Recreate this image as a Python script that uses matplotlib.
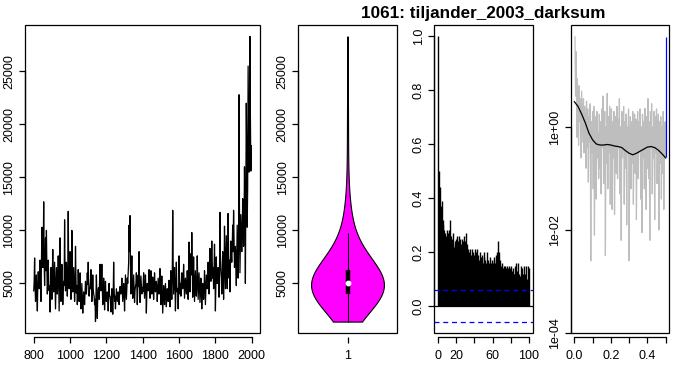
import numpy as np
import matplotlib
matplotlib.use("Agg")
import matplotlib.pyplot as plt

# ---------- Global style ----------

matplotlib.rcParams["font.family"] = ["Liberation Sans", "DejaVu Sans"]
matplotlib.rcParams["font.size"] = 9

TITLE = "1061: tiljander_2003_darksum"
VIOLIN_COLOR = "#FF00FF"
GREY = "#BEBEBE"
BLUE = "#0000FF"

# ---------- Data ----------

# darksum series: envelope values every 5 years from 800 ...
START_YEAR = 800
YEAR_STEP = 5
darksum_env = [
    4300, 7400, 3300, 5800, 2400, 6100, 4500, 7200, 3300, 10300,
    6500, 12700, 4800, 9300, 10000, 4000, 7200, 4300, 2300, 6500,
    3500, 8200, 4200, 7000, 2600, 6500, 4000, 7600, 2400, 9300,
    3300, 6800, 3000, 5200, 11000, 4300, 7000, 3800, 11800, 4500,
    8000, 3500, 10000, 4200, 6500, 3300, 8500, 4100, 3000, 6300,
    3300, 6000, 2600, 5000, 2200, 4200, 3000, 5200, 4000, 6000,
    7000, 3800, 4500, 6300, 3300, 5800, 4000, 3000, 1400, 5800,
    1700, 4500, 3500, 6800, 4300, 6800, 3000, 5500, 2500, 5200,
    3300, 4200, 2400, 5000, 3800, 2300, 4500, 2100, 7000, 3300,
    2600, 4500, 3300, 4200, 3000, 4700, 4000, 5500, 3300, 5000,
    2400, 5800, 3500, 5500, 6000, 10500, 11400, 4000, 7600, 3600,
    5800, 3200, 4700, 6000, 3000, 5800, 8000, 3200, 5700, 4000,
    4200, 6000, 3600, 5800, 2200, 5000, 4300, 6300, 3600, 6200,
    4000, 5600, 3500, 6000, 4200, 5200, 3300, 5500, 4000, 6400,
    3000, 5700, 2200, 4800, 3000, 5000, 2800, 4500, 3300, 5300,
    2800, 6200, 3500, 11900, 4000, 6500, 2400, 7000, 4200, 2600,
    7600, 4000, 3800, 6000, 4500, 6800, 3600, 5500, 4000, 6200,
    3500, 8900, 4200, 7800, 9800, 3700, 7500, 3300, 6200, 3800,
    7600, 3500, 6000, 3200, 5500, 2600, 5000, 3500, 6200, 3000,
    5800, 4500, 7000, 4000, 8300, 5200, 9000, 5500, 4500, 8700,
    2400, 7500, 5000, 6500, 3700, 11700, 6200, 4000, 8000, 3500,
    10400, 4500, 9500, 4500, 11600, 5500, 4200, 9000, 7000, 10500,
    11900, 6500, 8500, 4800, 10500, 5500, 22800, 6000, 11500, 8000,
    13000, 8500, 16000, 5000, 22000, 10300, 25500, 15500, 28300, 15600,
]
# ... and the typical level in between (802.5, 807.5, ...)
darksum_mid = [
    5200, 4700, 4400, 3900, 4800, 5300, 5600, 4800, 6500, 7500,
    8000, 7000, 7000, 6200, 6500, 5500, 5200, 4800, 4500, 5300,
    5800, 5200, 5600, 4900, 4600, 5200, 5400, 5000, 6000, 5200,
    4800, 4500, 4200, 4800, 6000, 5500, 5200, 6000, 6500, 5500,
    5800, 5000, 6200, 5400, 4800, 4400, 5500, 4800, 4200, 4600,
    4300, 4000, 3800, 3500, 3400, 3800, 4100, 4400, 4800, 4900,
    5000, 4600, 5200, 4800, 4300, 4500, 3800, 3500, 3400, 4000,
    3800, 4600, 5000, 5200, 5000, 4600, 4000, 4300, 3800, 3700,
    3900, 3600, 3700, 3800, 3400, 3500, 3600, 3900, 4500, 3800,
    3600, 3900, 3800, 3700, 4000, 4200, 4600, 4400, 4200, 4000,
    4300, 4500, 4600, 5000, 7000, 8000, 6500, 5500, 5000, 4600,
    4500, 4300, 5000, 4800, 4500, 4700, 5000, 4400, 4800, 4600,
    4900, 4800, 4600, 4500, 4000, 4600, 5000, 5200, 4800, 4900,
    4700, 4600, 4500, 4800, 4600, 4500, 4300, 4700, 4900, 5000,
    4200, 4000, 3600, 4000, 4000, 3900, 3800, 3700, 4100, 4200,
    4200, 4600, 5500, 7000, 5200, 5000, 4200, 4800, 4500, 4200,
    5500, 5000, 4800, 5000, 5300, 5200, 4600, 4700, 5000, 5200,
    5500, 6200, 6000, 5800, 6500, 5200, 5300, 4800, 5000, 4800,
    5500, 4800, 4700, 4500, 4300, 4000, 4300, 4400, 4600, 4500,
    5200, 5400, 5500, 5800, 6400, 6800, 7000, 6500, 6300, 6000,
    5200, 5500, 5800, 6000, 6000, 7500, 5500, 6000, 6000, 5800,
    7500, 6800, 7000, 6800, 8000, 7200, 6500, 7800, 8500, 8000,
    9000, 7500, 7000, 7500, 8000, 8500, 12000, 9000, 9800, 9500,
    11000, 10500, 12000, 13000, 17000, 14000, 20000, 19000, 21000, 18000,
]

# autocorrelation, lags 0..100
acf_values = [
    1.00, 0.50, 0.44, 0.37, 0.39, 0.32, 0.30, 0.28, 0.27, 0.26,
    0.28, 0.27, 0.28, 0.32, 0.26, 0.25, 0.23, 0.27, 0.22, 0.24,
    0.25, 0.26, 0.24, 0.26, 0.25, 0.23, 0.25, 0.24, 0.23, 0.26,
    0.24, 0.27, 0.23, 0.21, 0.20, 0.21, 0.19, 0.21, 0.20, 0.18,
    0.19, 0.21, 0.20, 0.21, 0.19, 0.17, 0.20, 0.18, 0.19, 0.16,
    0.20, 0.18, 0.17, 0.16, 0.20, 0.17, 0.16, 0.18, 0.16, 0.17,
    0.16, 0.18, 0.17, 0.16, 0.19, 0.20, 0.24, 0.20, 0.17, 0.15,
    0.16, 0.14, 0.15, 0.14, 0.15, 0.14, 0.15, 0.14, 0.15, 0.14,
    0.15, 0.13, 0.14, 0.12, 0.12, 0.15, 0.16, 0.13, 0.16, 0.12,
    0.11, 0.15, 0.14, 0.12, 0.15, 0.12, 0.11, 0.15, 0.10, 0.15,
    0.14,
]
acf_ci = 0.058

# raw periodogram (log10), frequencies k/300 for k = 1..150
PGRAM_N = 300
pgram_log10 = [
    1.75, 0.6, 1.46, -0.2, 0.94, 0.3, -0.36, 0.8, 0.1, 0.55,
    -0.6, 0.7, 0.2, -0.3, 0.55, -0.5, 0.4, 0.0, -0.8, 0.5,
    -0.4, 0.35, -1.07, 0.2, -0.3, 0.45, -2.6, 0.1, -0.5, 0.3,
    -1.2, 0.4, -2.1, -0.2, 0.2, -1.4, 0.3, -0.6, -0.1, -1.0,
    0.25, -0.8, 0.1, -1.3, 0.35, -0.4, 0.6, -1.1, -0.2, 0.3,
    -2.5, 0.0, -0.7, 0.65, -1.2, 0.2, -0.5, 0.4, -1.5, -0.1,
    0.35, -1.6, 0.1, -0.6, 0.3, -1.7, -0.3, 0.2, -0.9, 0.4,
    -1.0, 0.15, -0.4, 0.55, -1.3, 0.0, -2.2, 0.3, -0.6, -0.2,
    0.4, -1.5, 0.1, -0.8, 0.25, -1.9, 0.0, -0.5, 0.35, -2.6,
    -0.3, 0.2, -1.2, 0.1, -0.7, 0.3, -1.5, -0.1, 0.25, -0.9,
    0.15, -1.8, -0.2, 0.3, -1.0, 0.1, -0.5, 0.35, -1.4, 0.0,
    -2.05, 0.25, -0.6, 0.1, -1.2, 0.36, -0.3, -1.6, 0.2, -0.8,
    0.55, -1.0, 0.1, -2.2, 0.3, -0.4, 0.45, -1.3, 0.0, -0.6,
    0.3, -1.8, 0.2, -0.5, 0.35, -1.1, -0.1, 0.25, -2.0, 0.1,
    -0.7, 0.2, -1.4, 0.0, -0.9, 0.3, -1.6, -0.2, 0.1, -0.6,
]

# smoothed spectrum (log10), every 0.02 from 0 to 0.5
smooth_freq = [round(0.02 * i, 2) for i in range(26)]
smooth_log10 = [
    0.49, 0.40, 0.25, 0.08, -0.12, -0.25, -0.33, -0.35, -0.35, -0.34,
    -0.35, -0.37, -0.38, -0.40, -0.46, -0.51, -0.54, -0.51, -0.47, -0.43,
    -0.39, -0.38, -0.40, -0.45, -0.52, -0.60,
]

# blue marker segment at the Nyquist frequency (log10 ends)
blue_freq = 0.5
blue_log10 = [-0.58, 1.75]


# ---------- Helpers ----------

def r_range(lo, hi):
    pad = 0.04 * (hi - lo)
    return lo - pad, hi + pad


def r_axes(ax, xticks, xlabels, yticks, ylabels):
    """Box round the plot region plus R-like axes drawn from first to last tick."""
    ax.patch.set_edgecolor("black")
    ax.patch.set_linewidth(0.9)
    for s in ("top", "right"):
        ax.spines[s].set_visible(False)
    ax.spines["bottom"].set_position(("outward", 3))
    ax.spines["bottom"].set_bounds(xticks[0], xticks[-1])
    ax.spines["left"].set_bounds(yticks[0], yticks[-1])
    for s in ("bottom", "left"):
        ax.spines[s].set_linewidth(0.9)
    ax.set_xticks(xticks)
    ax.set_xticklabels(xlabels)
    ax.set_yticks(yticks)
    ax.set_yticklabels(ylabels, rotation=90, va="center")
    ax.tick_params(axis="x", length=4, width=0.9, pad=5)
    ax.tick_params(axis="y", length=4, width=0.9, pad=3)
    ax.minorticks_off()


# ---------- Main ----------

def main():
    env = np.array(darksum_env, dtype=float)
    mid = np.array(darksum_mid, dtype=float)
    values = np.column_stack([env, mid]).ravel()
    years = START_YEAR + YEAR_STEP / 2 * np.arange(len(values))
    ylim = r_range(values.min(), values.max())

    fig = plt.figure(figsize=(6.81, 3.71), dpi=100)
    bottom, height = 38 / 371, 308 / 371
    ax1 = fig.add_axes([25 / 681, bottom, 235 / 681, height])
    ax2 = fig.add_axes([298.3 / 681, bottom, 98.4 / 681, height])
    ax3 = fig.add_axes([434.3 / 681, bottom, 98.4 / 681, height])
    ax4 = fig.add_axes([570.7 / 681, bottom, 98.6 / 681, height])

    # --- time series
    ax1.plot(years, values, color="black", lw=0.9)
    ax1.set_xlim(*r_range(years.min(), years.max()))
    ax1.set_ylim(*ylim)
    xt = list(range(800, 2001, 200))
    yt = list(range(5000, 25001, 5000))
    r_axes(ax1, xt, [str(v) for v in xt], yt, [str(v) for v in yt])

    # --- violin
    parts = ax2.violinplot(values, positions=[1], widths=0.8,
                           showextrema=False, bw_method=0.7)
    for body in parts["bodies"]:
        body.set_facecolor(VIOLIN_COLOR)
        body.set_edgecolor("black")
        body.set_linewidth(0.8)
        body.set_alpha(1)
    q1, med, q3 = np.percentile(values, [25, 50, 75])
    iqr = q3 - q1
    lower = max(values.min(), q1 - 1.5 * iqr)
    upper = min(values.max(), q3 + 1.5 * iqr)
    ax2.vlines(1, lower, upper, color="black", lw=0.8)
    ax2.vlines(1, q1, q3, color="black", lw=3.2)
    ax2.plot([1], [med], "o", color="white", ms=3.2, mec="white")
    ax2.set_xlim(0.46, 1.54)
    ax2.set_ylim(*ylim)
    r_axes(ax2, [1], ["1"], yt, [str(v) for v in yt])

    # --- autocorrelation
    lags = np.arange(len(acf_values))
    ax3.vlines(lags, 0, acf_values, color="black", lw=1.0)
    ax3.axhline(0, color="black", lw=0.9)
    for c in (acf_ci, -acf_ci):
        ax3.axhline(c, color=BLUE, lw=0.9, ls=(0, (4, 3)))
    ax3.set_xlim(*r_range(0, lags.max()))
    ax3.set_ylim(*r_range(min(-acf_ci, min(acf_values)), max(acf_values)))
    xt3 = [0, 20, 40, 60, 80, 100]
    yt3 = [0.0, 0.2, 0.4, 0.6, 0.8, 1.0]
    r_axes(ax3, xt3, ["0", "20", "", "60", "", "100"],
           yt3, [f"{v:.1f}" for v in yt3])
    ax3.set_title(TITLE, fontsize=12.3, fontweight="bold", pad=5)

    # --- spectrum
    freq = np.arange(1, len(pgram_log10) + 1) / PGRAM_N
    ax4.set_yscale("log")
    ax4.plot(freq, 10 ** np.array(pgram_log10), color=GREY, lw=0.9)
    ax4.plot(smooth_freq, 10 ** np.array(smooth_log10), color="black", lw=0.9)
    ax4.vlines(blue_freq, 10 ** blue_log10[0], 10 ** blue_log10[1],
               color=BLUE, lw=0.9)
    ax4.set_xlim(*r_range(0, 0.5))
    ax4.set_ylim(1e-4, 10 ** 1.98)
    xt4 = [0.0, 0.1, 0.2, 0.3, 0.4, 0.5]
    yt4 = [1e-4, 1e-2, 1e0]
    r_axes(ax4, xt4, ["0.0", "", "0.2", "", "0.4", ""],
           yt4, ["1e-04", "1e-02", "1e+00"])

    fig.savefig("out.png", dpi=100, facecolor="white")


if __name__ == "__main__":
    main()
